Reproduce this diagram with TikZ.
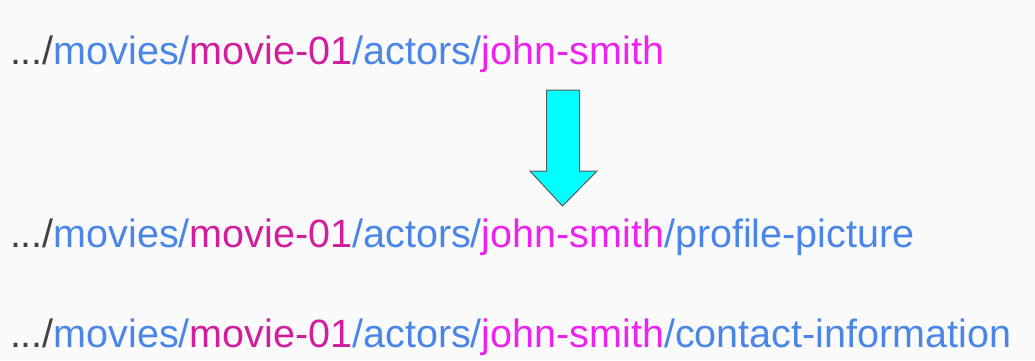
\documentclass[tikz,border=0pt]{standalone}
\usepackage{fontspec}
\setmainfont{Liberation Sans}
\definecolor{pathgray}{HTML}{424242}
\definecolor{pathblue}{HTML}{4A86E8}
\definecolor{pathmovie}{HTML}{D21E9E}
\definecolor{pathactor}{HTML}{EE22EE}
\definecolor{arrowcyan}{HTML}{00FFFF}
\definecolor{arrowedge}{HTML}{5A5A5A}
\definecolor{pagebg}{HTML}{FAFAFA}
\newcommand{\urlstem}{\textcolor{pathgray}{.../}\textcolor{pathblue}{movies/}%
  \textcolor{pathmovie}{movie-01}\textcolor{pathblue}{/actors/}%
  \textcolor{pathactor}{john-smith}}
\tikzset{urlline/.style={anchor=base west,inner sep=0pt,outer sep=0pt,
    font=\fontsize{39.5}{44}\selectfont}}
\begin{document}
\begin{tikzpicture}[y=1pt, x=1pt, yscale=-1, inner sep=0pt, outer sep=0pt]
  \path[fill=pagebg] (0,0) rectangle (1035,360);
  \useasboundingbox (0,0) rectangle (1035,360);
  % the three resource paths
  \node[urlline] (before) at (10,64) {\urlstem};
  \node[urlline] (picture) at (10,247) {\urlstem\textcolor{pathblue}{/profile-picture}};
  \node[urlline] (contact) at (10,347) {\urlstem\textcolor{pathblue}{/contact-information}};
  % block arrow
  \path[draw=arrowedge,fill=arrowcyan,line join=miter,line width=1.0pt]
    (546.5,90.0) -- (579.5,90.0) -- (579.5,171.0) -- (597.0,171.0) --
    (562.5,206.0) -- (530.0,171.0) -- (546.5,171.0) -- cycle;
\end{tikzpicture}
\end{document}
